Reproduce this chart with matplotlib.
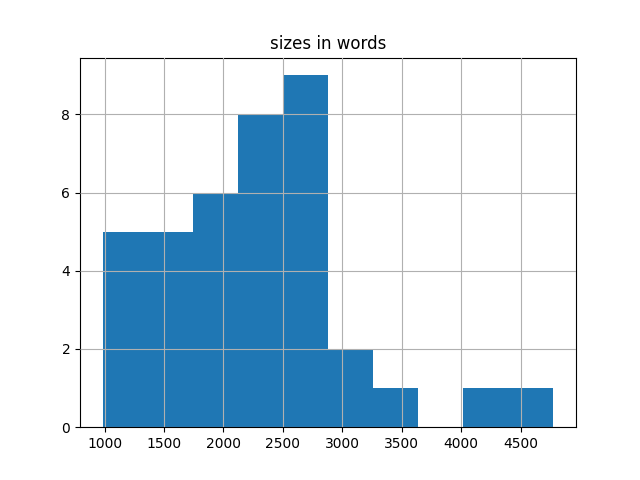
import matplotlib
matplotlib.use("Agg")
import matplotlib.pyplot as plt
import numpy as np

# histogram of document sizes in words (10 bins)
size_min = 983
size_max = 4777
counts = [5, 5, 6, 8, 9, 2, 1, 0, 1, 1]

edges = np.linspace(size_min, size_max, len(counts) + 1)
centers = (edges[:-1] + edges[1:]) / 2

fig, ax = plt.subplots(figsize=(6.4, 4.8), dpi=100)
ax.hist(centers, bins=edges, weights=counts, color="#1f77b4")
ax.grid(True)
ax.set_axisbelow(False)
ax.set_title("sizes in words")
fig.savefig("out.png")
